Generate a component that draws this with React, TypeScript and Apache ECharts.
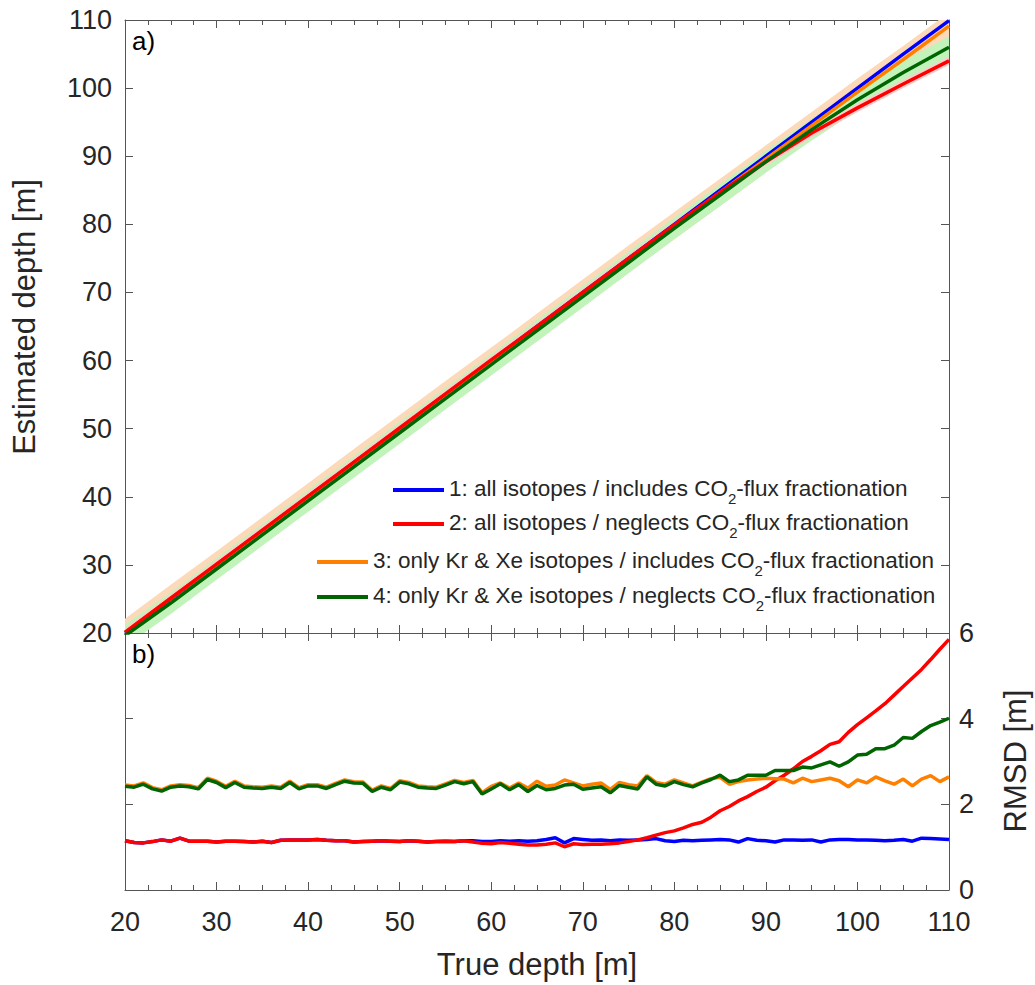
import React, { useEffect, useRef } from "react";
import * as echarts from "echarts";

// ---------- data ----------
// True depth grid for the RMSD panel (b)
const DEPTH = [
  20, 21, 22, 23, 24, 25, 26, 27, 28, 29, 30, 31, 32, 33, 34, 35, 36, 37, 38, 39,
  40, 41, 42, 43, 44, 45, 46, 47, 48, 49, 50, 51, 52, 53, 54, 55, 56, 57, 58, 59,
  60, 61, 62, 63, 64, 65, 66, 67, 68, 69, 70, 71, 72, 73, 74, 75, 76, 77, 78, 79,
  80, 81, 82, 83, 84, 85, 86, 87, 88, 89, 90, 91, 92, 93, 94, 95, 96, 97, 98, 99,
  100, 101, 102, 103, 104, 105, 106, 107, 108, 109, 110,
];

// RMSD [m], series 1 (blue)
const RMSD_1 = [
  1.15, 1.11, 1.10, 1.13, 1.17, 1.14, 1.21, 1.14, 1.14, 1.14, 1.12, 1.14, 1.14, 1.13, 1.12, 1.14, 1.11, 1.16, 1.17, 1.17,
  1.17, 1.18, 1.16, 1.15, 1.15, 1.12, 1.13, 1.14, 1.15, 1.14, 1.13, 1.15, 1.14, 1.12, 1.13, 1.14, 1.13, 1.15, 1.15, 1.13,
  1.13, 1.15, 1.14, 1.15, 1.14, 1.15, 1.18, 1.22, 1.10, 1.20, 1.18, 1.16, 1.17, 1.15, 1.17, 1.16, 1.17, 1.18, 1.20, 1.15,
  1.13, 1.16, 1.15, 1.16, 1.17, 1.18, 1.17, 1.12, 1.20, 1.16, 1.15, 1.12, 1.17, 1.17, 1.16, 1.17, 1.12, 1.17, 1.18, 1.18,
  1.17, 1.17, 1.16, 1.15, 1.16, 1.18, 1.14, 1.21, 1.20, 1.19, 1.18,
];
// RMSD [m], series 2 (red)
const RMSD_2 = [
  1.15, 1.11, 1.10, 1.13, 1.17, 1.14, 1.21, 1.14, 1.14, 1.14, 1.12, 1.14, 1.14, 1.13, 1.12, 1.14, 1.11, 1.16, 1.17, 1.17,
  1.17, 1.18, 1.16, 1.15, 1.15, 1.12, 1.13, 1.14, 1.15, 1.14, 1.13, 1.15, 1.14, 1.12, 1.13, 1.14, 1.13, 1.15, 1.12, 1.09,
  1.08, 1.11, 1.09, 1.07, 1.05, 1.05, 1.07, 1.10, 1.01, 1.08, 1.06, 1.07, 1.07, 1.08, 1.10, 1.13, 1.17, 1.22, 1.28, 1.34,
  1.38, 1.45, 1.53, 1.58, 1.70, 1.85, 1.95, 2.08, 2.18, 2.30, 2.40, 2.55, 2.68, 2.83, 3.00, 3.12, 3.25, 3.40, 3.46, 3.68,
  3.86, 4.02, 4.18, 4.35, 4.55, 4.75, 4.95, 5.15, 5.38, 5.62, 5.85,
];
// RMSD [m], series 3 (orange)
const RMSD_3 = [
  2.45, 2.43, 2.50, 2.39, 2.34, 2.43, 2.46, 2.44, 2.39, 2.61, 2.54, 2.42, 2.54, 2.43, 2.41, 2.40, 2.43, 2.40, 2.54, 2.39,
  2.46, 2.46, 2.40, 2.49, 2.57, 2.53, 2.52, 2.33, 2.43, 2.37, 2.55, 2.51, 2.43, 2.41, 2.40, 2.48, 2.56, 2.51, 2.56, 2.27,
  2.42, 2.50, 2.38, 2.50, 2.38, 2.54, 2.42, 2.45, 2.57, 2.50, 2.43, 2.47, 2.50, 2.35, 2.51, 2.46, 2.43, 2.67, 2.51, 2.47,
  2.57, 2.50, 2.43, 2.52, 2.60, 2.63, 2.47, 2.53, 2.57, 2.59, 2.61, 2.60, 2.59, 2.50, 2.61, 2.53, 2.57, 2.61, 2.55, 2.41,
  2.57, 2.50, 2.64, 2.55, 2.47, 2.59, 2.43, 2.59, 2.67, 2.53, 2.64,
];
// RMSD [m], series 4 (green)
const RMSD_4 = [
  2.42, 2.40, 2.47, 2.36, 2.31, 2.40, 2.43, 2.41, 2.36, 2.58, 2.51, 2.39, 2.51, 2.40, 2.38, 2.37, 2.40, 2.37, 2.51, 2.36,
  2.43, 2.43, 2.37, 2.46, 2.54, 2.50, 2.49, 2.30, 2.40, 2.34, 2.52, 2.48, 2.40, 2.38, 2.37, 2.45, 2.53, 2.48, 2.53, 2.24,
  2.36, 2.48, 2.34, 2.46, 2.30, 2.44, 2.34, 2.37, 2.45, 2.47, 2.35, 2.38, 2.41, 2.27, 2.44, 2.40, 2.36, 2.64, 2.47, 2.43,
  2.53, 2.46, 2.41, 2.50, 2.58, 2.68, 2.53, 2.57, 2.68, 2.68, 2.68, 2.79, 2.79, 2.79, 2.87, 2.85, 2.92, 2.99, 2.89, 2.99,
  3.15, 3.17, 3.30, 3.30, 3.38, 3.56, 3.54, 3.70, 3.84, 3.92, 4.01,
];

// Panel (a): estimated vs true depth
const TRUE_DEPTH = [20, 25, 30, 35, 40, 45, 50, 55, 60, 65, 70, 75, 80, 85, 90, 95, 100, 105, 110];
const EST_1 = [20, 25, 30, 35, 40, 45, 50, 55, 60, 65, 70, 75, 80, 85, 90, 95, 100, 105, 109.9];
const EST_2 = [20.1, 25.1, 30.1, 35.1, 40.1, 45.1, 50.1, 55.1, 60.1, 65.0, 70.0, 75.0, 79.9, 84.7, 89.2, 93.4, 97.1, 100.6, 104.0];
const EST_3 = [20.1, 25.1, 30, 35, 40, 45, 50, 55, 59.9, 64.9, 69.9, 74.9, 79.8, 84.7, 89.6, 94.5, 99.4, 104.2, 109.1];
const EST_4 = [19.6, 24.4, 29.4, 34.4, 39.4, 44.4, 49.4, 54.4, 59.4, 64.4, 69.4, 74.4, 79.4, 84.3, 89.2, 93.9, 98.3, 102.3, 106.0];
// Half-width of the shaded uncertainty bands [m]
const BAND_2 = 0.6;
const BAND_3 = 2.0;
const BAND_4 = 1.6;

const LEGEND_LABELS = [
  ["1: all isotopes / includes CO", "2", "-flux fractionation"],
  ["2: all isotopes / neglects CO", "2", "-flux fractionation"],
  ["3: only Kr & Xe isotopes / includes CO", "2", "-flux fractionation"],
  ["4: only Kr & Xe isotopes / neglects CO", "2", "-flux fractionation"],
];
const X_TITLE = "True depth [m]";
const Y_TITLE = "Estimated depth [m]";
const Y2_TITLE = "RMSD [m]";

// ---------- styles ----------
const C_BLUE = "#0000ff";
const C_RED = "#ff0000";
const C_ORANGE = "#ff8000";
const C_GREEN = "#006400";
const F_BAND_RED = "#ffcccc";
const F_BAND_ORANGE = "#fcd9b8";
const F_BAND_GREEN = "#c2f3ba";
const TXT = "#262626";
const AX = "#555555";
const FONT = "Liberation Sans, Arial, Helvetica, sans-serif";

export default function App() {
  const ref = useRef<HTMLDivElement>(null);

  useEffect(() => {
    const chart = echarts.init(ref.current!, null, { renderer: "svg" });

    const baseAxis = (extra: any) => ({
      type: "value",
      axisLine: { show: true, onZero: false, lineStyle: { color: AX, width: 1 } },
      axisTick: { show: true, inside: true, length: 8, lineStyle: { color: AX, width: 1 } },
      axisLabel: { show: false },
      splitLine: { show: false },
      ...extra,
    });
    const xCommon = {
      min: 20,
      max: 110,
      interval: 10,
      minorTick: { show: true, splitNumber: 4, length: 5, lineStyle: { color: AX, width: 1 } },
      minorSplitLine: { show: false },
    };

    const band = (est: number[], half: number, fill: string, z: number) => ({
      type: "custom",
      xAxisIndex: 0,
      yAxisIndex: 0,
      clip: true,
      silent: true,
      z,
      data: TRUE_DEPTH.map((x, i) => [x, est[i] - half, est[i] + half]),
      renderItem: (params: any, api: any) => {
        if (params.dataIndex !== 0) return null;
        const pts: number[][] = [];
        for (let i = 0; i < TRUE_DEPTH.length; i++) pts.push(api.coord([TRUE_DEPTH[i], est[i] + half]));
        for (let i = TRUE_DEPTH.length - 1; i >= 0; i--) pts.push(api.coord([TRUE_DEPTH[i], est[i] - half]));
        return { type: "polygon", shape: { points: pts }, style: { fill, stroke: "none" } };
      },
    });

    const estLine = (name: string, est: number[], color: string, z: number) => ({
      name,
      type: "line",
      xAxisIndex: 0,
      yAxisIndex: 0,
      showSymbol: false,
      symbol: "none",
      z,
      lineStyle: { color, width: 3.5 },
      data: TRUE_DEPTH.map((x, i) => [x, est[i]]),
    });
    const rmsdLine = (name: string, vals: number[], color: string, z: number) => ({
      name,
      type: "line",
      xAxisIndex: 2,
      yAxisIndex: 3,
      showSymbol: false,
      symbol: "none",
      z,
      lineStyle: { color, width: 3.5 },
      data: DEPTH.map((x, i) => [x, vals[i]]),
    });

    const legendColors = [C_BLUE, C_RED, C_ORANGE, C_GREEN];
    const legendY = [488, 522, 560, 595];
    const legendTextX = [449, 449, 373, 373];
    const legendGraphics: any[] = [];
    LEGEND_LABELS.forEach((parts, i) => {
      legendGraphics.push({
        type: "line",
        shape: { x1: legendTextX[i] - 56, y1: legendY[i] + 2, x2: legendTextX[i] - 5, y2: legendY[i] + 2 },
        style: { stroke: legendColors[i], lineWidth: 4 },
      });
      legendGraphics.push({
        type: "text",
        x: legendTextX[i],
        y: legendY[i],
        style: {
          text: `{a|${parts[0]}}{s|${parts[1]}}{a|${parts[2]}}`,
          rich: {
            a: { fontSize: 22.5, fontFamily: FONT, fill: TXT, lineHeight: 36 },
            s: { fontSize: 15, fontFamily: FONT, fill: TXT, lineHeight: 15, verticalAlign: "bottom" },
          },
          align: "left",
          verticalAlign: "middle",
        },
      });
    });

    const option: any = {
      animation: false,
      backgroundColor: "#ffffff",
      textStyle: { fontFamily: FONT },
      grid: [
        { left: 125, top: 20, width: 824, height: 613 },
        { left: 125, top: 633, width: 824, height: 257 },
      ],
      xAxis: [
        baseAxis({ gridIndex: 0, position: "bottom", ...xCommon }),
        baseAxis({ gridIndex: 0, position: "top", ...xCommon }),
        baseAxis({
          gridIndex: 1,
          position: "bottom",
          ...xCommon,
          axisLabel: { show: true, fontSize: 27, color: TXT, margin: 18, fontFamily: FONT },
        }),
        baseAxis({ gridIndex: 1, position: "top", ...xCommon }),
      ],
      yAxis: [
        baseAxis({
          gridIndex: 0,
          position: "left",
          min: 20,
          max: 110,
          interval: 10,
          axisLabel: { show: true, fontSize: 27, color: TXT, margin: 13, fontFamily: FONT },
        }),
        baseAxis({ gridIndex: 0, position: "right", min: 20, max: 110, interval: 10 }),
        baseAxis({ gridIndex: 1, position: "left", min: 0, max: 6, interval: 2 }),
        baseAxis({
          gridIndex: 1,
          position: "right",
          min: 0,
          max: 6,
          interval: 2,
          axisLabel: { show: true, fontSize: 27, color: TXT, margin: 10, fontFamily: FONT },
        }),
      ],
      series: [
        band(EST_3, BAND_3, F_BAND_ORANGE, 1),
        band(EST_4, BAND_4, F_BAND_GREEN, 2),
        band(EST_2, BAND_2, F_BAND_RED, 3),
        estLine("1", EST_1, C_BLUE, 5),
        estLine("3", EST_3, C_ORANGE, 6),
        estLine("2", EST_2, C_RED, 7),
        estLine("4", EST_4, C_GREEN, 8),
        rmsdLine("1", RMSD_1, C_BLUE, 5),
        rmsdLine("2", RMSD_2, C_RED, 6),
        rmsdLine("3", RMSD_3, C_ORANGE, 7),
        rmsdLine("4", RMSD_4, C_GREEN, 8),
      ],
      graphic: [
        {
          type: "text",
          x: 132,
          y: 41,
          style: { text: "a)", fontSize: 26, fontFamily: FONT, fill: "#000", align: "left", verticalAlign: "middle" },
        },
        {
          type: "text",
          x: 132,
          y: 654,
          style: { text: "b)", fontSize: 26, fontFamily: FONT, fill: "#000", align: "left", verticalAlign: "middle" },
        },
        {
          type: "text",
          x: 537,
          y: 964,
          style: { text: X_TITLE, fontSize: 31, fontFamily: FONT, fill: TXT, align: "center", verticalAlign: "middle" },
        },
        {
          type: "text",
          x: 24,
          y: 317,
          rotation: Math.PI / 2,
          style: { text: Y_TITLE, fontSize: 31, fontFamily: FONT, fill: TXT, align: "center", verticalAlign: "middle" },
        },
        {
          type: "text",
          x: 1015,
          y: 761,
          rotation: Math.PI / 2,
          style: { text: Y2_TITLE, fontSize: 31, fontFamily: FONT, fill: TXT, align: "center", verticalAlign: "middle" },
        },
        ...legendGraphics,
      ],
    };

    chart.setOption(option);
    return () => chart.dispose();
  }, []);

  return (
    <div
      ref={ref}
      style={{ position: "fixed", left: 0, top: 0, width: 1035, height: 985, background: "#fff" }}
    />
  );
}
